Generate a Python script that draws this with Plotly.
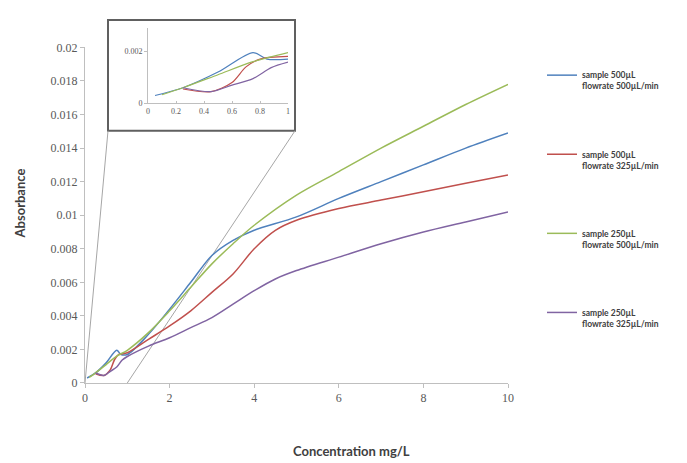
import plotly.graph_objects as go

# ---- data ----
names = ["<b>sample 500µL<br>flowrate 500µL/min</b>",
         "<b>sample 500µL<br>flowrate 325µL/min</b>",
         "<b>sample 250µL<br>flowrate 500µL/min</b>",
         "<b>sample 250µL<br>flowrate 325µL/min</b>"]
colors = ["#4F81BD", "#C0504D", "#9BBB59", "#8064A2"]

blue_x = [0.05, 0.25, 0.5, 0.75, 0.85, 1, 1.5, 2, 2.5, 3, 3.5, 4, 5, 6, 7, 8, 9, 10]
blue_y = [0.0003, 0.0006, 0.0012, 0.00195, 0.0017, 0.0017, 0.0029, 0.0044, 0.006, 0.0076,
          0.0085, 0.0091, 0.0099, 0.0110, 0.0120, 0.0130, 0.0140, 0.0149]

red_x = [0.25, 0.45, 0.6, 0.7, 0.8, 1, 1.5, 2, 2.5, 3, 3.5, 4, 4.5, 5, 6, 7, 8, 9, 10]
red_y = [0.00055, 0.00045, 0.0008, 0.0014, 0.0017, 0.0018, 0.0026, 0.0034, 0.0043, 0.0054,
         0.0065, 0.0080, 0.0091, 0.0097, 0.0104, 0.0109, 0.0114, 0.0119, 0.0124]

green_x = [0.1, 0.25, 0.5, 0.75, 1, 1.5, 2, 2.5, 3, 3.5, 4, 5, 6, 7, 8, 9, 10]
green_y = [0.00033, 0.0006, 0.0011, 0.0016, 0.00195, 0.0030, 0.0043, 0.0057, 0.0071, 0.0083,
           0.0094, 0.0112, 0.0126, 0.0140, 0.0153, 0.0166, 0.0178]

purple_x = [0.25, 0.45, 0.6, 0.75, 0.88, 1, 1.5, 2, 2.5, 3, 3.5, 4, 4.5, 5, 6, 7, 8, 9, 10]
purple_y = [0.0006, 0.00045, 0.0007, 0.00095, 0.00137, 0.00158, 0.0022, 0.0027, 0.0033, 0.0039,
            0.0047, 0.0055, 0.0062, 0.0067, 0.0075, 0.0083, 0.0090, 0.0096, 0.0102]

series = [(blue_x, blue_y), (red_x, red_y), (green_x, green_y), (purple_x, purple_y)]

y_ticks = [0, 0.002, 0.004, 0.006, 0.008, 0.01, 0.012, 0.014, 0.016, 0.018, 0.02]
y_tick_text = ["0", "0.002", "0.004", "0.006", "0.008", "0.01", "0.012", "0.014", "0.016", "0.018", "0.02"]
x_ticks = [0, 2, 4, 6, 8, 10]
inset_x_ticks = [0, 0.2, 0.4, 0.6, 0.8, 1]
inset_x_text = ["0", "0.2", "0.4", "0.6", "0.8", "1"]
inset_y_ticks = [0, 0.002]
inset_y_text = ["0", "0.002"]

fig = go.Figure()
for i, ((xs, ys), nm, c) in enumerate(zip(series, names, colors)):
    fig.add_trace(go.Scatter(x=xs, y=ys, mode="lines", name=nm, legendgroup=str(i),
                             line=dict(color=c, width=1.5, shape="spline", smoothing=0.9)))
for i, ((xs, ys), c) in enumerate(zip(series, colors)):
    xi = [x for x in xs if x <= 1.0001]
    yi = [y for x, y in zip(xs, ys) if x <= 1.0001]
    fig.add_trace(go.Scatter(x=xi, y=yi, mode="lines", showlegend=False, xaxis="x2", yaxis="y2",
                             line=dict(color=c, width=1.2, shape="spline", smoothing=0.8)))

W, H = 687, 463
L, R, T, B = 85, 179, 10, 80
pw, ph = W - L - R, H - T - B


def px(xp):
    return (xp - L) / pw


def py(yp):
    return (H - B - yp) / ph


tickfont = dict(family="Liberation Serif", size=12, color="#595959")
insetfont = dict(family="Liberation Serif", size=8, color="#595959")
axcol = "#BFBFBF"

fig.update_layout(
    width=W, height=H, margin=dict(l=L, r=R, t=T, b=B),
    paper_bgcolor="white", plot_bgcolor="white",
    showlegend=True,
    legend=dict(x=px(542), y=py(57), xanchor="left", yanchor="top",
                font=dict(family="Lato", size=8.5, color="#404040"),
                tracegroupgap=54, valign="top", bgcolor="rgba(0,0,0,0)"),
    xaxis=dict(range=[0, 10], tickvals=x_ticks, showgrid=False, zeroline=False,
               showline=True, linecolor=axcol, linewidth=1, ticks="outside", tickcolor=axcol,
               ticklen=4, tickfont=tickfont, domain=[0, 1], anchor="y"),
    yaxis=dict(range=[0, 0.02], tickvals=y_ticks, ticktext=y_tick_text, showgrid=False,
               zeroline=False, showline=True, linecolor=axcol, linewidth=1, ticks="outside",
               tickcolor=axcol, ticklen=4, tickfont=tickfont, domain=[0, py(41)], anchor="x"),
    xaxis2=dict(range=[0, 1], tickvals=inset_x_ticks, ticktext=inset_x_text, showgrid=False,
                zeroline=False, showline=True, linecolor=axcol, linewidth=1, ticks="inside",
                tickcolor=axcol, ticklen=2, tickfont=insetfont,
                domain=[px(148), px(288)], anchor="y2"),
    yaxis2=dict(range=[0, 0.0029], tickvals=inset_y_ticks, ticktext=inset_y_text, showgrid=False,
                zeroline=False, showline=True, linecolor=axcol, linewidth=1, ticks="outside",
                tickcolor=axcol, ticklen=3, tickfont=insetfont,
                domain=[py(98), py(21)], anchor="x2"),
    shapes=[
        dict(type="rect", xref="paper", yref="paper", x0=px(108), x1=px(295), y0=py(126), y1=py(13),
             line=dict(color="#606060", width=2), fillcolor="white", layer="below"),
        dict(type="line", xref="x", yref="y", x0=0, y0=0, x1=(108 - L) / 42.3, y1=(H - B - 126) / 17100,
             line=dict(color="#A6A6A6", width=1), layer="below"),
        dict(type="line", xref="x", yref="y", x0=1, y0=0, x1=(295 - L) / 42.3, y1=(H - B - 126) / 17100,
             line=dict(color="#A6A6A6", width=1), layer="below"),
    ],
    annotations=[
        dict(text="<b>Concentration mg/L</b>", xref="paper", yref="paper", x=px(351), y=py(452),
             showarrow=False, xanchor="center", yanchor="middle",
             font=dict(family="Lato", size=13, color="#404040")),
        dict(text="<b>Absorbance</b>", xref="paper", yref="paper", x=px(20), y=py(200),
             showarrow=False, xanchor="center", yanchor="middle", textangle=-90,
             font=dict(family="Lato", size=13, color="#404040")),
    ],
)

fig.write_html("out.html")
